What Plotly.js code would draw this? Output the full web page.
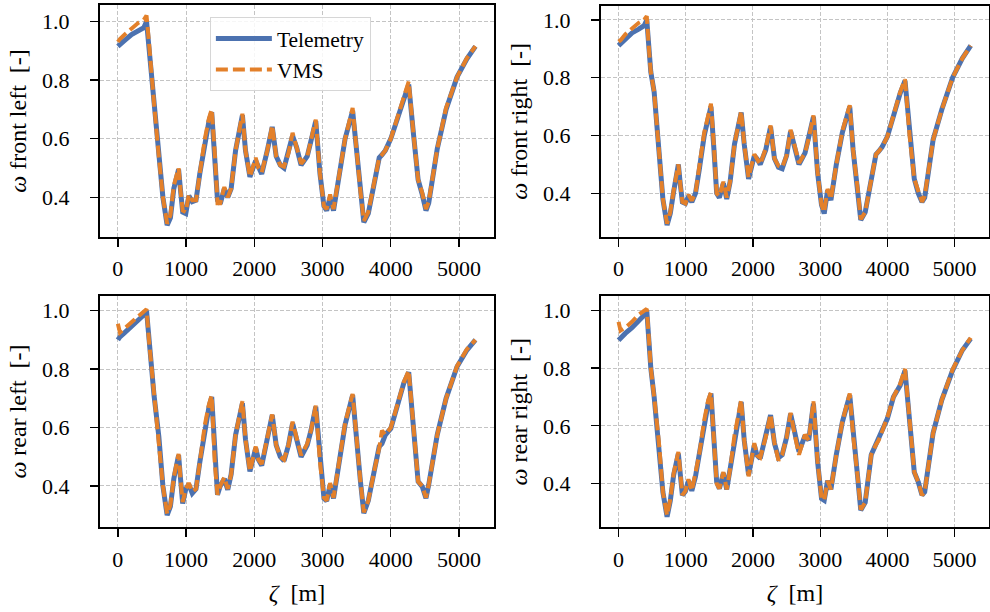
<!DOCTYPE html>
<html>
<head>
<meta charset="utf-8">
<script src="https://cdn.plot.ly/plotly-3.0.1.min.js"></script>
<style>html,body{margin:0;padding:0;background:#fff;}#chart{width:990px;height:612px;}</style>
</head>
<body>
<div id="chart"></div>
<script>
// distance along track, zeta [m]
const zeta = [
  0, 30, 100, 200, 300, 380, 420, 455, 480, 530,
  600, 660, 722, 770, 820, 890, 920, 950, 995, 1040,
  1090, 1145, 1200, 1275, 1335, 1375, 1420, 1460, 1500, 1560,
  1610, 1660, 1725, 1790, 1825, 1870, 1935, 2020, 2060, 2108,
  2190, 2262, 2320, 2380, 2435, 2500, 2560, 2620, 2685, 2775,
  2830, 2900, 2962, 3020, 3060, 3110, 3160, 3240, 3330, 3440,
  3490, 3555, 3604, 3670, 3760, 3830, 3870, 3920, 4000, 4090,
  4190, 4262, 4330, 4400, 4460, 4515, 4555, 4680, 4810, 4970,
  5115, 5240
];

const frontLeftTelemetry = [
  0.915, 0.922, 0.935, 0.955, 0.966, 0.978, 1.0, 0.91, 0.845, 0.72,
  0.54, 0.40, 0.305, 0.33, 0.43, 0.495, 0.42, 0.35, 0.345, 0.405,
  0.385, 0.39, 0.48, 0.59, 0.66, 0.69, 0.55, 0.39, 0.378, 0.43,
  0.40, 0.43, 0.56, 0.64, 0.68, 0.56, 0.47, 0.525, 0.50, 0.48,
  0.56, 0.64, 0.54, 0.51, 0.50, 0.55, 0.61, 0.57, 0.51, 0.54,
  0.59, 0.66, 0.48, 0.37, 0.355, 0.40, 0.355, 0.47, 0.60, 0.695,
  0.57, 0.42, 0.315, 0.345, 0.455, 0.535, 0.545, 0.56, 0.60, 0.665,
  0.74, 0.785, 0.62, 0.46, 0.41, 0.355, 0.38, 0.565, 0.70, 0.81,
  0.872, 0.915
];
const frontLeftVMS = [
  0.93, 0.94, 0.955, 0.975, 0.995, 1.005, 1.02, 0.93, 0.85, 0.72,
  0.54, 0.40, 0.31, 0.34, 0.44, 0.50, 0.42, 0.355, 0.35, 0.41,
  0.39, 0.39, 0.48, 0.60, 0.67, 0.70, 0.55, 0.38, 0.38, 0.435,
  0.40, 0.43, 0.56, 0.65, 0.685, 0.56, 0.47, 0.535, 0.50, 0.485,
  0.56, 0.645, 0.54, 0.51, 0.505, 0.55, 0.62, 0.57, 0.515, 0.54,
  0.59, 0.665, 0.48, 0.37, 0.36, 0.41, 0.36, 0.47, 0.60, 0.705,
  0.57, 0.42, 0.32, 0.35, 0.455, 0.535, 0.545, 0.56, 0.60, 0.665,
  0.745, 0.795, 0.62, 0.46, 0.415, 0.36, 0.385, 0.565, 0.705, 0.81,
  0.875, 0.915
];

const frontRightTelemetry = [
  0.911, 0.918, 0.935, 0.955, 0.968, 0.98, 1.0, 0.88, 0.82, 0.75,
  0.556, 0.38, 0.29, 0.33, 0.406, 0.50, 0.43, 0.37, 0.365, 0.39,
  0.37, 0.40, 0.48, 0.60, 0.66, 0.70, 0.55, 0.40, 0.385, 0.435,
  0.38, 0.44, 0.57, 0.64, 0.68, 0.57, 0.45, 0.53, 0.52, 0.50,
  0.55, 0.63, 0.52, 0.49, 0.485, 0.53, 0.615, 0.56, 0.50, 0.54,
  0.59, 0.665, 0.47, 0.36, 0.33, 0.41, 0.376, 0.50, 0.61, 0.70,
  0.55, 0.42, 0.308, 0.335, 0.45, 0.535, 0.545, 0.56, 0.596, 0.67,
  0.746, 0.79, 0.60, 0.45, 0.40, 0.37, 0.385, 0.585, 0.69, 0.80,
  0.867, 0.911
];
const frontRightVMS = [
  0.925, 0.93, 0.95, 0.97, 0.99, 1.0, 1.013, 0.89, 0.82, 0.75,
  0.556, 0.38, 0.295, 0.335, 0.41, 0.50, 0.43, 0.37, 0.365, 0.395,
  0.375, 0.40, 0.49, 0.61, 0.67, 0.71, 0.56, 0.40, 0.39, 0.44,
  0.385, 0.44, 0.57, 0.645, 0.685, 0.57, 0.455, 0.535, 0.52, 0.50,
  0.555, 0.635, 0.52, 0.495, 0.49, 0.53, 0.62, 0.56, 0.505, 0.54,
  0.59, 0.67, 0.47, 0.36, 0.335, 0.415, 0.38, 0.50, 0.615, 0.705,
  0.55, 0.42, 0.31, 0.335, 0.45, 0.535, 0.545, 0.56, 0.596, 0.67,
  0.75, 0.795, 0.60, 0.45, 0.405, 0.37, 0.39, 0.585, 0.69, 0.80,
  0.867, 0.911
];

const rearLeftTelemetry = [
  0.90, 0.91, 0.925, 0.945, 0.965, 0.985, 1.0, 0.895, 0.84, 0.71,
  0.57, 0.40, 0.30, 0.33, 0.425, 0.505, 0.42, 0.34, 0.39, 0.405,
  0.375, 0.39, 0.48, 0.60, 0.67, 0.705, 0.48, 0.37, 0.40, 0.425,
  0.387, 0.44, 0.575, 0.65, 0.683, 0.56, 0.45, 0.53, 0.49, 0.47,
  0.563, 0.643, 0.54, 0.50, 0.486, 0.54, 0.615, 0.56, 0.50, 0.54,
  0.59, 0.671, 0.48, 0.358, 0.349, 0.404, 0.358, 0.48, 0.61, 0.711,
  0.57, 0.415, 0.307, 0.35, 0.455, 0.535, 0.545, 0.575, 0.597, 0.666,
  0.752, 0.789, 0.62, 0.415, 0.398, 0.358, 0.404, 0.575, 0.70, 0.808,
  0.865, 0.90
];
const rearLeftVMS = [
  0.955, 0.925, 0.94, 0.96, 0.98, 1.0, 1.005, 0.90, 0.84, 0.71,
  0.57, 0.40, 0.305, 0.335, 0.43, 0.51, 0.42, 0.345, 0.39, 0.41,
  0.38, 0.39, 0.48, 0.61, 0.68, 0.71, 0.48, 0.37, 0.40, 0.43,
  0.39, 0.44, 0.575, 0.655, 0.69, 0.56, 0.45, 0.535, 0.49, 0.475,
  0.565, 0.645, 0.54, 0.50, 0.49, 0.54, 0.62, 0.56, 0.505, 0.545,
  0.59, 0.675, 0.48, 0.36, 0.35, 0.41, 0.36, 0.48, 0.615, 0.715,
  0.57, 0.415, 0.31, 0.35, 0.455, 0.53, 0.59, 0.575, 0.60, 0.67,
  0.755, 0.795, 0.62, 0.415, 0.40, 0.36, 0.405, 0.575, 0.70, 0.81,
  0.868, 0.90
];

const rearRightTelemetry = [
  0.896, 0.905, 0.92, 0.94, 0.965, 0.983, 1.0, 0.88, 0.80, 0.70,
  0.544, 0.37, 0.285, 0.34, 0.43, 0.504, 0.43, 0.36, 0.373, 0.41,
  0.375, 0.425, 0.50, 0.613, 0.68, 0.712, 0.55, 0.406, 0.383, 0.436,
  0.38, 0.45, 0.567, 0.65, 0.683, 0.55, 0.43, 0.533, 0.498, 0.487,
  0.56, 0.637, 0.54, 0.49, 0.50, 0.56, 0.642, 0.57, 0.51, 0.567,
  0.55, 0.677, 0.475, 0.348, 0.342, 0.41, 0.38, 0.50, 0.613, 0.706,
  0.567, 0.429, 0.308, 0.335, 0.50, 0.535, 0.55, 0.58, 0.625, 0.70,
  0.74, 0.792, 0.60, 0.44, 0.405, 0.36, 0.371, 0.575, 0.69, 0.792,
  0.862, 0.902
];
const rearRightVMS = [
  0.96, 0.93, 0.94, 0.96, 0.985, 1.0, 1.005, 0.89, 0.80, 0.70,
  0.544, 0.37, 0.29, 0.345, 0.435, 0.51, 0.43, 0.36, 0.375, 0.415,
  0.375, 0.43, 0.50, 0.62, 0.69, 0.715, 0.55, 0.40, 0.383, 0.44,
  0.38, 0.45, 0.567, 0.655, 0.69, 0.55, 0.425, 0.54, 0.498, 0.49,
  0.56, 0.64, 0.54, 0.48, 0.50, 0.56, 0.645, 0.57, 0.50, 0.57,
  0.55, 0.685, 0.475, 0.35, 0.342, 0.41, 0.38, 0.50, 0.615, 0.712,
  0.567, 0.429, 0.31, 0.335, 0.50, 0.535, 0.55, 0.58, 0.63, 0.70,
  0.745, 0.797, 0.60, 0.44, 0.405, 0.36, 0.371, 0.575, 0.69, 0.795,
  0.862, 0.905
];

const xTicks = [0, 1000, 2000, 3000, 4000, 5000];
const yTicks = [0.4, 0.6, 0.8, 1.0];
const yLabels = ['<i>\u03c9</i>\u00a0front left\u00a0\u00a0[-]', '<i>\u03c9</i>\u00a0front right\u00a0\u00a0[-]',
                 '<i>\u03c9</i>\u00a0rear left\u00a0\u00a0[-]', '<i>\u03c9</i>\u00a0rear right\u00a0\u00a0[-]'];
const xLabel = '<i>\u03b6</i>\u00a0\u00a0[m]';

const BLUE = '#4c72b0';
const ORANGE = '#e3802a';
const FONT = 'Liberation Serif';

const panels = [
  [frontLeftTelemetry, frontLeftVMS],
  [frontRightTelemetry, frontRightVMS],
  [rearLeftTelemetry, rearLeftVMS],
  [rearRightTelemetry, rearRightVMS]
];

const traces = [];
panels.forEach((p, i) => {
  const sfx = i === 0 ? '' : String(i + 1);
  traces.push({
    x: zeta, y: p[0], type: 'scatter', mode: 'lines', name: 'Telemetry',
    xaxis: 'x' + sfx, yaxis: 'y' + sfx, showlegend: i === 0,
    line: {color: BLUE, width: 5}
  });
  traces.push({
    x: zeta, y: p[1], type: 'scatter', mode: 'lines', name: 'VMS',
    xaxis: 'x' + sfx, yaxis: 'y' + sfx, showlegend: i === 0,
    line: {color: ORANGE, width: 4, dash: '12px,5px'}
  });
});

const xDomains = [[0.101, 0.499], [0.607, 0.999], [0.101, 0.499], [0.607, 0.999]];
const yDomains = [[0.6127, 0.9918], [0.6127, 0.9908], [0.1384, 0.5168], [0.1384, 0.5163]];
const yRanges = [[0.2647, 1.0557], [0.2487, 1.0495], [0.2587, 1.051], [0.2487, 1.0495]];

const layout = {
  width: 990, height: 612,
  margin: {l: 0, r: 0, t: 0, b: 0},
  paper_bgcolor: '#fff', plot_bgcolor: '#fff',
  font: {family: FONT, size: 22, color: '#000'},
  showlegend: true,
  legend: {
    x: 0.212, y: 0.972, xanchor: 'left', yanchor: 'top',
    bgcolor: 'rgba(255,255,255,0.85)', bordercolor: '#d6d6d6', borderwidth: 1,
    font: {family: FONT, size: 21.5, color: '#000'},
    itemwidth: 56, tracegroupgap: 0
  }
};

for (let i = 0; i < 4; i++) {
  const sfx = i === 0 ? '' : String(i + 1);
  const common = {
    showline: true, linecolor: '#000', linewidth: 2, mirror: true,
    ticks: 'outside', ticklen: 8, tickwidth: 1.3, tickcolor: '#000',
    showgrid: true, gridcolor: '#c4c4c4', gridwidth: 1, griddash: '4px,2px',
    zeroline: false, automargin: false,
    tickfont: {family: FONT, size: 22, color: '#000'}
  };
  layout['xaxis' + sfx] = Object.assign({}, common, {
    domain: xDomains[i], anchor: 'y' + sfx, range: [-262, 5512],
    tickmode: 'array', tickvals: xTicks, ticktext: xTicks.map(String),
    ticklabelstandoff: 3,
    title: i >= 2 ? {text: xLabel, font: {family: FONT, size: 24}, standoff: 14} : {text: ''}
  });
  layout['yaxis' + sfx] = Object.assign({}, common, {
    domain: yDomains[i], anchor: 'x' + sfx, range: yRanges[i],
    tickmode: 'array', tickvals: yTicks, ticktext: yTicks.map(v => v.toFixed(1)),
    ticklabelstandoff: 16,
    title: {text: yLabels[i], font: {family: FONT, size: 24}, standoff: 9}
  });
}

Plotly.newPlot('chart', traces, layout, {staticPlot: true, displayModeBar: false});
</script>
</body>
</html>
